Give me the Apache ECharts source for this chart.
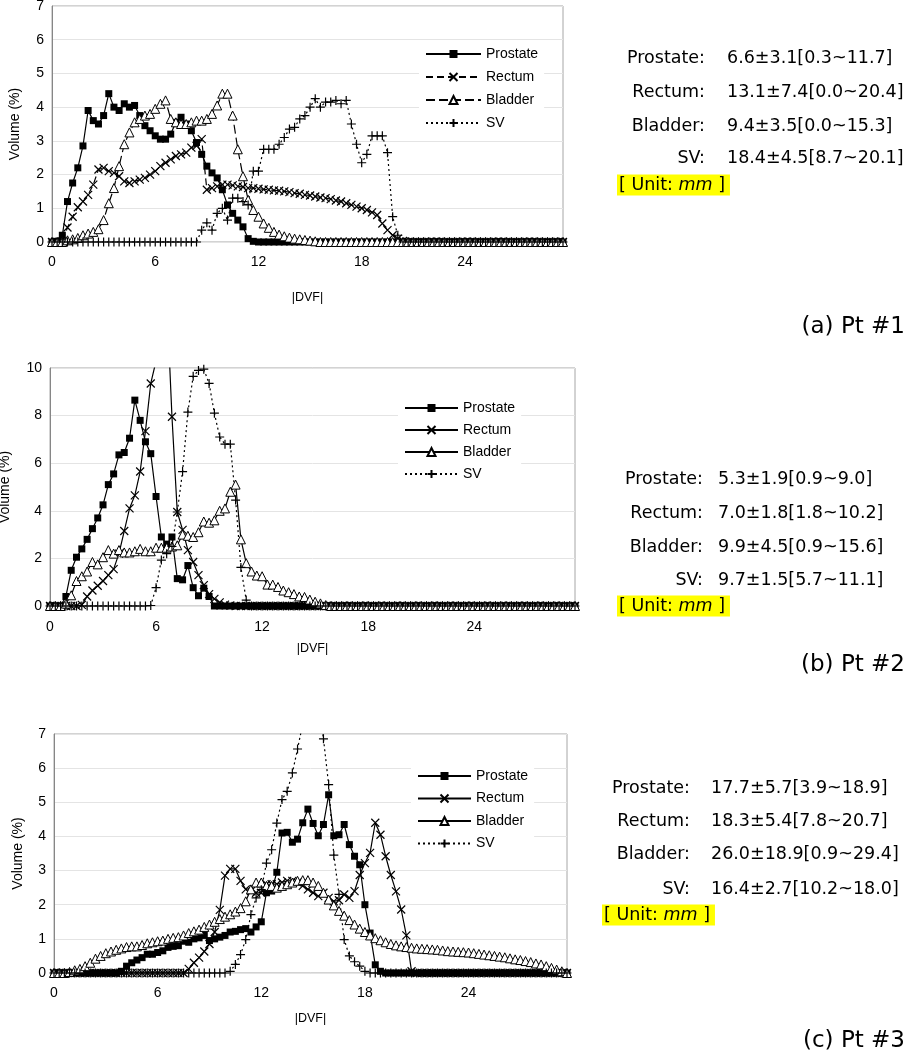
<!DOCTYPE html>
<html><head><meta charset="utf-8">
<script src="https://cdn.jsdelivr.net/npm/echarts@6/dist/echarts.min.js"></script>
<style>
html,body{margin:0;padding:0;background:#fff;width:907px;height:1050px;overflow:hidden}
.p{position:absolute;left:0;width:907px}
</style></head><body>
<div id="c1" class="p" style="top:0;height:340px"></div>
<div id="c2" class="p" style="top:340px;height:340px"></div>
<div id="c3" class="p" style="top:680px;height:370px"></div>
<script>
// |DVF| categories (mm), step 0.3
const dvf = [];
for (let i = 0; i < 100; i++) dvf.push((i * 0.3).toFixed(1));
const xTickLabels = ['0', '6', '12', '18', '24'];
const organs = ['Prostate', 'Rectum', 'Bladder', 'SV'];

// ---- Pt #1 ----
const p1Prostate = [
 0,0.02,0.2,1.2,1.75,2.2,2.85,3.9,3.6,3.5,
 3.75,4.4,4.0,3.9,4.1,4.0,4.05,3.75,3.45,3.3,
 3.15,3.05,3.05,3.2,3.55,3.7,3.5,3.3,2.95,2.6,
 2.25,2.05,1.9,1.55,1.1,0.85,0.65,0.45,0.1,0.02,
 0,0,0,0,0,0,0,0,0,0, 0,0,0,0,0,0,0,0,0,0,
 0,0,0,0,0,0,0,0,0,0, 0,0,0,0,0,0,0,0,0,0,
 0,0,0,0,0,0,0,0,0,0, 0,0,0,0,0,0,0,0,0,0];
const p1Rectum = [
 0,0,0.02,0.43,0.75,1.03,1.2,1.4,1.7,2.15,
 2.2,2.1,2.05,1.95,1.8,1.75,1.8,1.85,1.9,2.0,
 2.1,2.25,2.35,2.45,2.55,2.6,2.65,2.8,2.85,3.05,
 1.55,1.6,1.65,1.7,1.7,1.68,1.65,1.63,1.6,1.6,
 1.58,1.56,1.55,1.53,1.52,1.5,1.48,1.45,1.43,1.4,
 1.38,1.35,1.32,1.3,1.27,1.23,1.2,1.15,1.1,1.05,
 1.0,0.95,0.88,0.8,0.55,0.35,0.2,0.1,0.03,0,
 0,0,0,0,0,0,0,0,0,0, 0,0,0,0,0,0,0,0,0,0, 0,0,0,0,0,0,0,0,0,0];
const p1Bladder = [
 0,0,0,0.05,0.08,0.12,0.2,0.25,0.3,0.38,
 0.65,1.15,1.6,2.25,2.9,3.25,3.55,3.65,3.75,3.8,
 3.95,4.1,4.2,3.65,3.55,3.5,3.5,3.55,3.6,3.6,
 3.65,3.8,4.05,4.4,4.4,3.75,2.75,1.95,1.25,0.95,
 0.75,0.55,0.42,0.3,0.22,0.17,0.13,0.1,0.08,0.06,
 0.04,0.02,0,0,0,0,0,0,0,0,
 0,0,0,0,0,0,0,0,0,0, 0,0,0,0,0,0,0,0,0,0, 0,0,0,0,0,0,0,0,0,0, 0,0,0,0,0,0,0,0,0,0];
const p1SV = [
 0,0,0,0,0,0,0,0,0,0, 0,0,0,0,0,0,0,0,0,0,
 0,0,0,0,0,0,0,0,0,0.35,
 0.57,0.35,0.85,1.0,0.65,1.3,1.3,1.2,1.1,2.1,
 2.1,2.75,2.75,2.75,2.9,3.1,3.35,3.4,3.65,3.75,
 4.0,4.25,4.0,4.15,4.15,4.2,4.1,4.2,3.5,2.9,
 2.35,2.6,3.15,3.15,3.15,2.65,0.75,0.2,0,0,
 0,0,0,0,0,0,0,0,0,0, 0,0,0,0,0,0,0,0,0,0, 0,0,0,0,0,0,0,0,0,0];

// ---- Pt #2 ----
const p2Prostate = [
 0,0,0,0.4,1.5,2.05,2.4,2.8,3.25,3.7,
 4.25,5.1,5.55,6.35,6.45,7.05,8.65,7.8,6.9,6.4,
 4.6,2.9,2.6,2.9,1.15,1.1,1.7,0.77,0.43,0.75,
 0.4,0,0,0,0,0,0,0,0,0,
 0,0,0,0,0,0,0,0,0,0, 0,0,0,0,0,0,0,0,0,0,
 0,0,0,0,0,0,0,0,0,0, 0,0,0,0,0,0,0,0,0,0,
 0,0,0,0,0,0,0,0,0,0, 0,0,0,0,0,0,0,0,0,0];
const p2Rectum = [
 0,0,0,0,0,0,0.05,0.4,0.65,0.85,
 1.05,1.3,1.55,2.2,3.15,4.1,4.65,5.65,7.35,9.35,
 10.3,13.5,13.0,7.95,3.95,3.2,2.35,1.85,1.3,0.88,
 0.5,0.3,0.15,0.06,0.02,0,0,0,0,0,
 0,0,0,0,0,0,0,0,0,0, 0,0,0,0,0,0,0,0,0,0,
 0,0,0,0,0,0,0,0,0,0, 0,0,0,0,0,0,0,0,0,0,
 0,0,0,0,0,0,0,0,0,0, 0,0,0,0,0,0,0,0,0,0];
const p2Bladder = [
 0,0,0,0.1,0.45,1.05,1.25,1.45,1.85,1.75,
 2.05,2.35,2.2,2.35,2.25,2.25,2.3,2.4,2.3,2.3,
 2.45,2.45,2.45,2.5,2.55,3.0,2.95,2.9,3.1,3.55,
 3.5,3.6,4.0,4.1,4.8,5.1,2.8,1.8,1.45,1.28,
 1.25,0.9,0.9,0.8,0.65,0.58,0.5,0.4,0.38,0.27,
 0.18,0.11,0.04,0,0,0,0,0,0,0,
 0,0,0,0,0,0,0,0,0,0, 0,0,0,0,0,0,0,0,0,0,
 0,0,0,0,0,0,0,0,0,0, 0,0,0,0,0,0,0,0,0,0];
const p2SV = [
 0,0,0,0,0,0,0,0,0,0, 0,0,0,0,0,0,0,0,0,0.02,
 0.77,1.93,2.2,2.5,3.95,5.65,8.15,9.65,9.9,9.95,
 9.35,8.1,7.1,6.8,6.8,4.45,1.62,0.25,0,0,
 0,0,0,0,0,0,0,0,0,0, 0,0,0,0,0,0,0,0,0,0,
 0,0,0,0,0,0,0,0,0,0, 0,0,0,0,0,0,0,0,0,0,
 0,0,0,0,0,0,0,0,0,0, 0,0,0,0,0,0,0,0,0,0];

// ---- Pt #3 ----
const p3Prostate = [
 0,0,0,0,0,0,0,0,0,0,
 0,0,0,0.05,0.2,0.3,0.38,0.45,0.55,0.55,
 0.6,0.65,0.75,0.78,0.8,0.93,0.9,1.0,1.03,1.1,
 0.95,1.0,1.05,1.1,1.2,1.22,1.27,1.3,1.2,1.35,
 1.5,2.35,2.4,2.95,4.1,4.12,3.83,3.92,4.4,4.8,
 4.38,4.02,4.35,5.22,4.02,4.05,4.35,3.76,3.42,3.17,
 2.0,1.17,0.24,0.05,0,0,0,0,0,0,
 0,0,0,0,0,0,0,0,0,0, 0,0,0,0,0,0,0,0,0,0, 0,0,0,0,0,0,0,0,0,0];
const p3Rectum = [
 0,0,0,0,0,0,0,0,0,0, 0,0,0,0,0,0,0,0,0,0,
 0,0,0,0,0,0,0.12,0.3,0.45,0.63,
 0.85,1.2,1.85,2.85,3.05,3.05,2.7,2.45,2.4,2.35,
 2.35,2.6,2.6,2.6,2.65,2.7,2.7,2.65,2.55,2.45,
 2.35,2.25,2.35,2.2,2.1,2.13,2.3,2.2,2.4,2.87,
 3.22,3.52,4.4,4.05,3.42,2.87,2.39,1.86,1.1,0.05,
 0,0,0,0,0,0,0,0,0,0, 0,0,0,0,0,0,0,0,0,0, 0,0,0,0,0,0,0,0,0,0];
const p3Bladder = [
 0,0,0,0.03,0.08,0.12,0.2,0.3,0.42,0.5,
 0.58,0.63,0.68,0.72,0.76,0.78,0.78,0.82,0.87,0.9,
 0.93,0.95,1.0,1.03,1.05,1.1,1.17,1.22,1.27,1.35,
 1.42,1.5,1.58,1.65,1.72,1.8,1.9,2.1,2.45,2.65,
 2.65,2.55,2.55,2.5,2.55,2.6,2.65,2.7,2.72,2.72,
 2.65,2.55,2.35,2.15,1.98,1.82,1.68,1.55,1.42,1.3,
 1.2,1.1,1.02,0.96,0.9,0.85,0.81,0.78,0.76,0.74,
 0.72,0.71,0.7,0.69,0.68,0.66,0.64,0.63,0.62,0.61,
 0.6,0.58,0.56,0.54,0.52,0.5,0.48,0.46,0.43,0.4,
 0.38,0.35,0.32,0.28,0.25,0.2,0.15,0.1,0.05,0];
const p3SV = [
 0,0,0,0,0,0,0,0,0,0, 0,0,0,0,0,0,0,0,0,0,
 0,0,0,0,0,0,0,0,0,0, 0,0,0,0,0.05,0.25,0.54,0.98,1.71,2.2,
 2.44,3.22,3.61,4.39,5.08,5.32,5.86,6.56,7.3,8.0,
 8.4,8.0,6.86,5.52,3.45,2.3,0.98,0.5,0.33,0.2,
 0.05,0,0,0,0,0,0,0,0,0,
 0,0,0,0,0,0,0,0,0,0, 0,0,0,0,0,0,0,0,0,0, 0,0,0,0,0,0,0,0,0,0];

// statistics text
const stats1 = ['6.6±3.1[0.3~11.7]', '13.1±7.4[0.0~20.4]', '9.4±3.5[0.0~15.3]', '18.4±4.5[8.7~20.1]'];
const stats2 = ['5.3±1.9[0.9~9.0]', '7.0±1.8[1.8~10.2]', '9.9±4.5[0.9~15.6]', '9.7±1.5[5.7~11.1]'];
const stats3 = ['17.7±5.7[3.9~18.9]', '18.3±5.4[7.8~20.7]', '26.0±18.9[0.9~29.4]', '16.4±2.7[10.2~18.0]'];
const captions = ['(a) Pt #1', '(b) Pt #2', '(c) Pt #3'];

const AX = '"Liberation Sans", Arial, sans-serif';
const VF = '"DejaVu Sans", Verdana, sans-serif';
const SYMS = ['rect', 'path://M0,0L10,10M10,0L0,10', 'triangle', 'path://M5,0L5,10M0,5L10,5'];

function mkSeries(names, datas, lineTypes) {
  return datas.map((d, k) => {
    const s = {
      name: names[k], type: 'line', data: d, symbol: SYMS[k],
      showAllSymbol: true, animation: false, clip: true,
      lineStyle: {color: '#000', width: 1.2, type: lineTypes[k]},
      emphasis: {disabled: true}
    };
    if (k === 0) { s.symbolSize = 7; s.itemStyle = {color: '#000', borderWidth: 0}; }
    if (k === 1) { s.symbolSize = 8; s.itemStyle = {color: '#000', borderColor: '#000', borderWidth: 1.2}; }
    if (k === 2) { s.symbolSize = 9; s.itemStyle = {color: '#fff', borderColor: '#000', borderWidth: 1}; }
    if (k === 3) { s.symbolSize = 9; s.itemStyle = {color: '#000', borderColor: '#000', borderWidth: 1.2}; }
    return s;
  });
}

function statGraphics(stats, colX, valX, rowsY, unit, cap) {
  const g = [];
  organs.forEach((o, k) => {
    g.push({type: 'text', x: colX, y: rowsY[k], style: {text: o + ':', align: 'right', verticalAlign: 'middle', font: '17.5px ' + VF, fill: '#000'}});
    g.push({type: 'text', x: valX, y: rowsY[k], style: {text: stats[k], align: 'left', verticalAlign: 'middle', font: '17.5px ' + VF, fill: '#000'}});
  });
  g.push({type: 'text', x: unit.x, y: unit.y, style: {
    text: '{a|[ Unit: }{b|mm}{a| ]}', align: 'left', verticalAlign: 'middle',
    backgroundColor: '#ffff00', padding: [2, 5, 1, 2],
    rich: {a: {fontFamily: VF, fontSize: 17.5, color: '#000'},
           b: {fontFamily: VF, fontSize: 17.5, fontStyle: 'italic', color: '#000'}}
  }});
  g.push({type: 'text', x: 905, y: cap.y, style: {text: cap.text, align: 'right', verticalAlign: 'middle', font: '23px ' + VF, fill: '#000'}});
  return g;
}

function mkOption(cfg) {
  return {
    animation: false,
    grid: {left: cfg.grid[0], top: cfg.grid[1], width: cfg.grid[2], height: cfg.grid[3],
      containLabel: false, outerBoundsMode: 'none',
      show: true, borderColor: '#a6a6a6', borderWidth: 1, backgroundColor: 'transparent'},
    legend: {orient: 'vertical', left: cfg.legend[0], top: cfg.legend[1], itemWidth: cfg.legend[2], itemHeight: 10,
      itemGap: cfg.legend[3], padding: [4, 6], backgroundColor: '#fff', selectedMode: false,
      textStyle: {fontFamily: AX, fontSize: 14, color: '#000'}, data: organs},
    xAxis: {type: 'category', data: dvf, boundaryGap: false,
      name: '|DVF|', nameLocation: 'middle', nameGap: cfg.xNameGap,
      nameTextStyle: {fontFamily: AX, fontSize: 12.5, color: '#000'},
      axisLine: {show: false}, axisTick: {show: false}, splitLine: {show: false},
      axisLabel: {interval: 19, margin: cfg.xMargin, fontFamily: AX, fontSize: 14, color: '#000',
        formatter: (v, i) => xTickLabels[i / 20] !== undefined ? xTickLabels[i / 20] : ''}},
    yAxis: {type: 'value', min: 0, max: cfg.ymax, interval: cfg.yint,
      name: 'Volume (%)', nameLocation: 'middle', nameGap: cfg.yNameGap,
      nameTextStyle: {fontFamily: AX, fontSize: 14, color: '#000'},
      axisLine: {show: true, lineStyle: {color: '#868686'}}, axisTick: {show: false},
      splitLine: {lineStyle: {color: '#e4e4e4'}},
      axisLabel: {margin: 8, fontFamily: AX, fontSize: 14, color: '#000'}},
    series: mkSeries(organs, cfg.data, cfg.lineTypes),
    graphic: cfg.graphic
  };
}

const c1 = echarts.init(document.getElementById('c1'), null, {renderer: 'canvas'});
c1.setOption(mkOption({
  grid: [52, 6, 511, 236], legend: [419, 43, 55, 9], xNameGap: 49, xMargin: 13, yNameGap: 30,
  ymax: 7, yint: 1, data: [p1Prostate, p1Rectum, p1Bladder, p1SV],
  lineTypes: ['solid', [7, 4], [9, 4], [2, 3]],
  graphic: statGraphics(stats1, 705, 727, [58, 92, 126, 158], {x: 617, y: 185}, {text: captions[0], y: 327})
}));

const c2 = echarts.init(document.getElementById('c2'), null, {renderer: 'canvas'});
c2.setOption(mkOption({
  grid: [50, 28, 525, 238], legend: [398, 57, 53, 8], xNameGap: 36, xMargin: 14, yNameGap: 38,
  ymax: 10, yint: 2, data: [p2Prostate, p2Rectum, p2Bladder, p2SV],
  lineTypes: ['solid', 'solid', 'solid', [2, 3]],
  graphic: statGraphics(stats2, 703, 718, [139, 173, 207, 240], {x: 617, y: 266}, {text: captions[1], y: 325})
}));

const c3 = echarts.init(document.getElementById('c3'), null, {renderer: 'canvas'});
c3.setOption(mkOption({
  grid: [54, 54, 513, 239], legend: [411, 85, 53, 8.5], xNameGap: 39, xMargin: 13, yNameGap: 29,
  ymax: 7, yint: 1, data: [p3Prostate, p3Rectum, p3Bladder, p3SV],
  lineTypes: ['solid', 'solid', 'solid', [2, 3]],
  graphic: statGraphics(stats3, 690, 711, [108, 141, 174, 209], {x: 602, y: 235}, {text: captions[2], y: 361})
}));
</script>
</body></html>
